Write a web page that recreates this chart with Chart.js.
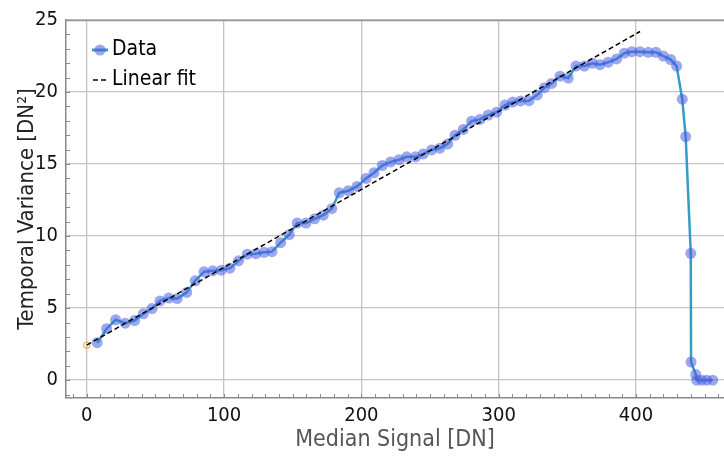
<!DOCTYPE html>
<html>
<head>
<meta charset="utf-8">
<script src="https://cdn.jsdelivr.net/npm/chart.js@4.4.1/dist/chart.umd.min.js"></script>
<style>
    html, body { margin: 0; padding: 0; background: #fff; }
    #wrap { width: 724px; height: 458px; }
</style>
</head>
<body>
<div id="wrap"><canvas id="ptcChart" width="724" height="458"></canvas></div>
<script>
// photon transfer data
const medianSignal = [
    7.6, 14.5, 21.0, 28.0, 34.9, 41.2, 47.5, 53.3, 59.7, 65.9,
    72.8, 79.0, 85.4, 91.7, 98.0, 104.3, 110.6, 116.9, 123.2, 129.1,
    134.9, 141.2, 147.5, 153.3, 159.7, 166.0, 172.3, 178.4, 183.9, 190.5,
    196.8, 203.4, 209.2, 215.2, 221.3, 227.4, 233.0, 239.5, 245.1, 251.2,
    257.2, 262.9, 268.2, 274.2, 280.3, 286.4, 292.4, 298.5, 304.6, 310.2,
    316.0, 322.1, 328.1, 333.4, 338.6, 344.7, 350.7, 356.3, 362.4, 368.2,
    373.8, 379.8, 385.9, 391.5, 396.9, 402.9, 409.0, 414.6, 419.9, 425.3,
    429.6, 433.7, 436.2, 439.9, 440.1, 443.5, 444.2, 447.9, 451.5, 455.9
];
const temporalVariance = [
    2.6, 3.57, 4.19, 3.95, 4.14, 4.6, 4.97, 5.5, 5.7, 5.66,
    6.09, 6.9, 7.52, 7.59, 7.63, 7.77, 8.28, 8.74, 8.78, 8.87,
    8.92, 9.54, 10.1, 10.9, 10.9, 11.2, 11.45, 11.9, 13.0, 13.15,
    13.45, 14.0, 14.4, 14.9, 15.15, 15.3, 15.5, 15.5, 15.7, 15.98,
    16.1, 16.4, 17.0, 17.4, 17.98, 18.1, 18.4, 18.6, 19.1, 19.3,
    19.38, 19.4, 19.8, 20.3, 20.6, 21.1, 20.97, 21.8, 21.8, 22.0,
    21.9, 22.07, 22.3, 22.7, 22.8, 22.8, 22.76, 22.76, 22.5, 22.25,
    21.8, 19.5, 16.9, 8.8, 1.26, 0.4, 0.0, 0.0, 0.0, 0.0
];
const fitSignal = [0, 403];
const fitVariance = [2.43, 24.2];

const xTicks = [0, 100, 200, 300, 400];
const yTicks = [0, 5, 10, 15, 20, 25];

const FONT = 'Tahoma, "DejaVu Sans Condensed", "Liberation Sans", sans-serif';
const LINE_COLOR = 'rgb(55,155,200)';
const DOT_COLOR = 'rgba(75,95,225,0.55)';

function toPoints(xs, ys) {
    return xs.map((x, i) => ({ x: x, y: ys[i] }));
}

// pyqtgraph style: frame line on top + small inward minor ticks
const frameAndMinorTicks = {
    id: 'frameAndMinorTicks',
    afterDraw(chart) {
        const { ctx, chartArea } = chart;
        const xs = chart.scales.x, ys = chart.scales.y;
        ctx.save();
        ctx.strokeStyle = '#999';
        ctx.lineWidth = 1.5;
        ctx.beginPath();
        ctx.moveTo(chartArea.left, chartArea.top + 0.5);
        ctx.lineTo(chartArea.right, chartArea.top + 0.5);
        ctx.stroke();

        ctx.lineWidth = 1;
        ctx.strokeStyle = '#888';
        ctx.beginPath();
        for (let v = Math.ceil(ys.min); v <= ys.max; v++) {
            const py = Math.round(ys.getPixelForValue(v)) + 0.5;
            ctx.moveTo(chartArea.left, py);
            ctx.lineTo(chartArea.left + 4, py);
        }
        for (let v = Math.ceil(xs.min / 10) * 10; v <= xs.max; v += 10) {
            const px = Math.round(xs.getPixelForValue(v)) + 0.5;
            ctx.moveTo(px, chartArea.bottom);
            ctx.lineTo(px, chartArea.bottom - 4);
        }
        ctx.stroke();
        ctx.restore();
    }
};

// legend sits inside the plot, top-left
const insideLegend = {
    id: 'insideLegend',
    afterDraw(chart) {
        const { ctx, chartArea } = chart;
        const sets = chart.data.datasets;
        const x0 = chartArea.left + 26;
        let y = chartArea.top + 30;
        ctx.save();
        ctx.font = '21px ' + FONT;
        ctx.textBaseline = 'middle';
        ctx.fillStyle = '#000';

        // Data entry
        ctx.strokeStyle = LINE_COLOR;
        ctx.lineWidth = 3;
        ctx.beginPath();
        ctx.moveTo(x0, y);
        ctx.lineTo(x0 + 16, y);
        ctx.stroke();
        ctx.fillStyle = DOT_COLOR;
        ctx.beginPath();
        ctx.arc(x0 + 8, y, 5.5, 0, Math.PI * 2);
        ctx.fill();
        ctx.fillStyle = '#000';
        ctx.fillText(sets[1].label, x0 + 20, y);

        // Linear fit entry
        y += 30;
        ctx.strokeStyle = '#000';
        ctx.lineWidth = 1.5;
        ctx.setLineDash([5, 3]);
        ctx.beginPath();
        ctx.moveTo(x0 + 1, y);
        ctx.lineTo(x0 + 16, y);
        ctx.stroke();
        ctx.setLineDash([]);
        ctx.fillText(sets[0].label, x0 + 20, y);
        ctx.restore();
    }
};

Chart.defaults.font.family = FONT;
Chart.defaults.color = '#222';

const ctx = document.getElementById('ptcChart').getContext('2d');
new Chart(ctx, {
    type: 'scatter',
    data: {
        datasets: [
            {
                label: 'Linear fit',
                data: toPoints(fitSignal, fitVariance),
                showLine: true,
                borderColor: '#000',
                borderWidth: 1.5,
                borderDash: [5, 3],
                pointRadius: 0,
                order: 0
            },
            {
                label: 'Data',
                data: toPoints(medianSignal, temporalVariance),
                showLine: true,
                borderColor: LINE_COLOR,
                borderWidth: 2.5,
                tension: 0,
                pointRadius: 5.5,
                pointBackgroundColor: DOT_COLOR,
                pointBorderWidth: 0,
                order: 1
            },
            {
                label: 'fit origin',
                data: [{ x: fitSignal[0], y: fitVariance[0] }],
                pointRadius: 3,
                pointBackgroundColor: 'rgba(0,0,0,0)',
                pointBorderColor: 'rgb(250,175,90)',
                pointBorderWidth: 1.2,
                order: 2
            }
        ]
    },
    options: {
        responsive: false,
        animation: false,
        devicePixelRatio: 1,
        layout: { autoPadding: false, padding: { left: 0, right: 0, top: 17, bottom: 0 } },
        plugins: {
            legend: { display: false },
            tooltip: { enabled: false }
        },
        scales: {
            x: {
                type: 'linear',
                min: -15.1,
                max: 464.1,
                afterBuildTicks: s => { s.ticks = xTicks.map(v => ({ value: v })); },
                afterFit: s => { s.height = 60; s.paddingLeft = 0; s.paddingRight = 0; },
                grid: { color: '#c4c4c4', lineWidth: 1.3, drawTicks: false },
                border: { color: '#888', width: 1.5 },
                ticks: { font: { size: 20 }, color: '#111', padding: 6, maxRotation: 0 },
                title: {
                    display: true,
                    text: 'Median Signal [DN]',
                    color: '#555',
                    font: { size: 23 },
                    padding: { top: 0, bottom: 4 }
                }
            },
            y: {
                type: 'linear',
                min: -1.24,
                max: 25,
                afterBuildTicks: s => { s.ticks = yTicks.map(v => ({ value: v })); },
                afterFit: s => { s.width = 66; },
                grid: { color: '#c4c4c4', lineWidth: 1.3, drawTicks: false },
                border: { color: '#888', width: 1.5 },
                ticks: { font: { size: 20 }, color: '#111', padding: 8 },
                title: {
                    display: true,
                    text: 'Temporal Variance [DN²]',
                    color: '#222',
                    font: { size: 22 },
                    padding: { top: 14, bottom: 0 }
                }
            }
        }
    },
    plugins: [frameAndMinorTicks, insideLegend]
});
</script>
</body>
</html>
